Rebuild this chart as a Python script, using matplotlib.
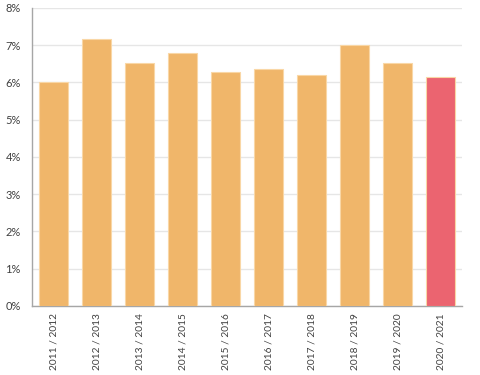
import matplotlib
matplotlib.use("Agg")
import matplotlib.pyplot as plt
from matplotlib.ticker import FuncFormatter

# school years and rate (%)
years = ['2011 / 2012', '2012 / 2013', '2013 / 2014', '2014 / 2015', '2015 / 2016',
         '2016 / 2017', '2017 / 2018', '2018 / 2019', '2019 / 2020', '2020 / 2021']
rates = [6.0, 7.17, 6.51, 6.80, 6.27, 6.35, 6.21, 7.0, 6.51, 6.16]

orange = '#F0B66A'
red = '#EB6470'
colors = [orange] * (len(years) - 1) + [red]

plt.rcParams['font.family'] = ['Lato', 'DejaVu Sans']

fig = plt.figure(figsize=(4.8, 3.75), dpi=100)
ax = fig.add_axes([0.0667, 0.184, 0.8958, 0.7947])

x = range(len(years))
ax.bar(x, rates, width=0.67, color=colors, edgecolor='#F9D7A6', linewidth=0.8, zorder=3)

ax.set_xlim(-0.5, len(years) - 0.5)
ax.set_ylim(0, 8)
ax.set_yticks(range(0, 9))
ax.yaxis.set_major_formatter(FuncFormatter(lambda v, p: '%d%%' % v))
ax.set_xticks(list(x))
ax.set_xticklabels(years, rotation=90, fontsize=7.3)

ax.grid(axis='y', color='#E6E6E6', linewidth=1, zorder=0)
ax.tick_params(axis='both', length=0, labelcolor='#404040')
ax.tick_params(axis='y', labelsize=8, pad=8)
ax.tick_params(axis='x', pad=5)

for s in ['top', 'right']:
    ax.spines[s].set_visible(False)
for s in ['left', 'bottom']:
    ax.spines[s].set_color('#A6A6A6')
    ax.spines[s].set_linewidth(1)

fig.savefig('out.png', dpi=100)
